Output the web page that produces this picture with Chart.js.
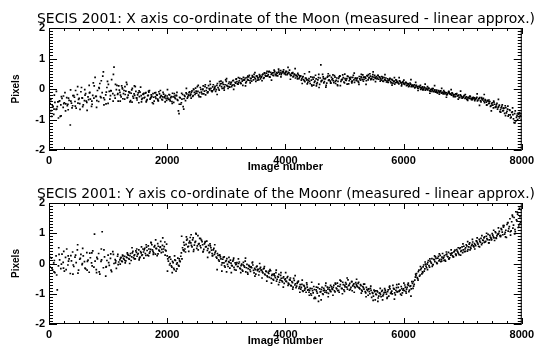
<!DOCTYPE html>
<html>
<head>
<meta charset="utf-8">
<script src="https://cdn.jsdelivr.net/npm/chart.js@4/dist/chart.umd.min.js"></script>
<style>
  html, body { margin: 0; padding: 0; background: #fff; }
  #wrap { position: relative; width: 538px; height: 349px; }
  canvas { position: absolute; left: 0; }
</style>
</head>
<body>
<div id="wrap">
  <canvas id="panelX" width="538" height="175" style="top:0"></canvas>
  <canvas id="panelY" width="538" height="174" style="top:175px"></canvas>
</div>
<script>
// image numbers run 0..7990; sets A and B read every 20 frames (B offset by 10),
// set C is the looser scatter read every 40 frames starting at 5
const frameStep = 20;
const frameOffsetB = 10;
const frameStepC = 40;
const frameOffsetC = 5;
const xTicks = [0, 2000, 4000, 6000, 8000];
const yTicks = [-2, -1, 0, 1, 2];

const titleX = 'SECIS 2001: X axis co-ordinate of the Moon (measured - linear approx.)';
const titleY = 'SECIS 2001: Y axis co-ordinate of the Moonr (measured - linear approx.)';

// X co-ordinate residuals (pixels), frames 0, 20, 40 ...
const xResidualA = [
  -0.62, -0.48, -0.71, -0.55, -0.83, -0.44, -0.67, -0.58, -0.95, -0.39, -0.52, -0.31, -0.60, -0.45, -0.72, -0.28, -0.50, -0.37, -1.18, -0.46,
  -0.55, -0.22, -0.41, -0.63, -0.18, -0.34, -0.48, -0.09, -0.29, -0.52, -0.38, -0.15, -0.44, -0.26, 0.12, -0.33, -0.57, -0.21, -0.30, 0.38,
  -0.24, -0.05, -0.41, 0.18, -0.28, -0.12, 0.56, -0.35, -0.19, 0.05, -0.47, -0.08, -0.22, 0.31, -0.15, 0.72, -0.30, -0.02, -0.18, 0.10,
  -0.11, -0.26, 0.04, -0.15, -0.33, -0.07, 0.15, -0.20, -0.12, -0.38, -0.03, -0.24, -0.16, 0.08, -0.29, -0.19, -0.45, -0.10, -0.22, -0.31,
  -0.18, -0.27, -0.12, -0.35, -0.21, -0.05, -0.30, -0.24, -0.15, -0.40, -0.26, -0.19, -0.33, -0.09, -0.28, -0.22, -0.36, -0.17, -0.25, -0.31,
  -0.23, -0.34, -0.19, -0.28, -0.41, -0.26, -0.15, -0.32, -0.22, -0.37, -0.81, -0.29, -0.45, -0.18, -0.66, -0.24, -0.13, -0.30, -0.20, -0.09,
  -0.17, -0.06, -0.22, -0.11, 0.03, -0.14, -0.08, -0.25, 0.05, -0.10, -0.02, -0.16, 0.08, -0.05, -0.12, 0.11, -0.03, 0.02, -0.09, 0.14,
  0.01, -0.08, 0.12, 0.05, -0.04, 0.17, 0.08, 0.22, 0.03, 0.14, 0.25, 0.09, 0.18, 0.06, 0.21, 0.13, 0.28, 0.10, 0.19, 0.24,
  0.16, 0.27, 0.21, 0.33, 0.12, 0.29, 0.36, 0.24, 0.31, 0.40, 0.27, 0.35, 0.44, 0.30, 0.38, 0.25, 0.42, 0.36, 0.47, 0.33,
  0.41, 0.49, 0.37, 0.45, 0.52, 0.43, 0.56, 0.39, 0.48, 0.53, 0.44, 0.58, 0.47, 0.51, 0.55, 0.49, 0.60, 0.52, 0.56, 0.50,
  0.54, 0.57, 0.50, 0.53, 0.48, 0.45, 0.51, 0.42, 0.47, 0.44, 0.40, 0.46, 0.38, 0.43, 0.33, 0.41, 0.27, 0.36, 0.30, 0.22,
  0.34, 0.18, 0.29, 0.38, 0.13, 0.26, 0.33, 0.21, 0.37, 0.15, 0.79, 0.28, 0.40, 0.24, 0.35, 0.19, 0.42, 0.30, 0.26, 0.38,
  0.33, 0.21, 0.39, 0.28, 0.14, 0.35, 0.43, 0.25, 0.31, 0.37, 0.20, 0.29, 0.34, 0.41, 0.27, 0.32, 0.24, 0.38, 0.30, 0.35,
  0.28, 0.36, 0.22, 0.33, 0.40, 0.31, 0.26, 0.38, 0.35, 0.44, 0.30, 0.37, 0.42, 0.33, 0.47, 0.39, 0.35, 0.41, 0.36, 0.32,
  0.38, 0.29, 0.34, 0.25, 0.31, 0.36, 0.27, 0.22, 0.30, 0.24, 0.32, 0.19, 0.26, 0.21, 0.28, 0.23, 0.17, 0.25, 0.20, 0.22,
  0.19, 0.15, 0.22, 0.13, 0.17, 0.10, 0.16, 0.12, 0.08, 0.14, 0.06, 0.11, 0.03, 0.09, 0.05, 0.01, 0.07, -0.02, 0.04, 0.00,
  -0.01, 0.03, -0.05, -0.02, -0.08, 0.01, -0.06, -0.10, -0.04, -0.12, -0.07, -0.09, -0.14, -0.11, -0.05, -0.16, -0.13, -0.18, -0.10, -0.15,
  -0.17, -0.13, -0.21, -0.18, -0.24, -0.15, -0.22, -0.27, -0.19, -0.25, -0.29, -0.23, -0.31, -0.26, -0.33, -0.28, -0.24, -0.32, -0.30, -0.27,
  -0.29, -0.33, -0.27, -0.36, -0.31, -0.38, -0.28, -0.34, -0.40, -0.35, -0.43, -0.37, -0.48, -0.41, -0.55, -0.45, -0.62, -0.50, -0.58, -0.47,
  -0.60, -0.53, -0.68, -0.57, -0.72, -0.63, -0.55, -0.78, -0.66, -0.85, -0.70, -0.92, -0.75, -0.98, -0.81, -1.05, -0.88, -0.79, -0.95, -0.86
];

// X co-ordinate residuals (pixels), frames 10, 30, 50 ... (null = no measurement)
const xResidualB = [
  -0.75, -0.35, null, -0.58, -0.20, null, -0.66, -0.42, null, -0.90, -0.25, null, -0.48, -0.12, null, -0.55, -0.30, null, -0.40, -0.62,
  null, -0.27, -0.05, null, -0.46, -0.31, null, 0.05, -0.58, null, -0.20, -0.40, null, -0.35, -0.11, null, -0.50, 0.20, null, -0.24,
  -0.38, null, 0.02, -0.25, null, 0.42, -0.52, null, -0.10, 0.25, null, -0.33, -0.06, null, 0.48, -0.21, null, 0.12, -0.40, -0.04,
  -0.20, 0.10, -0.32, -0.05, -0.18, 0.22, -0.27, -0.09, -0.42, -0.14, 0.02, -0.30, -0.21, -0.08, -0.36, -0.13, -0.25, 0.06, -0.34, -0.17,
  -0.29, -0.14, -0.38, -0.22, -0.10, -0.33, -0.19, -0.45, -0.27, -0.13, -0.31, -0.20, -0.39, -0.16, -0.24, -0.34, -0.11, -0.28, -0.21, -0.37,
  -0.30, -0.18, -0.39, -0.25, -0.14, -0.44, -0.28, -0.21, -0.35, -0.72, -0.27, -0.50, -0.33, -0.58, -0.21, -0.38, -0.16, -0.26, -0.12, -0.22,
  -0.10, -0.24, -0.02, -0.18, -0.07, 0.08, -0.20, -0.12, -0.01, -0.16, 0.10, -0.07, -0.19, 0.04, -0.09, 0.01, 0.15, -0.06, 0.07, -0.02,
  0.09, -0.02, 0.18, 0.00, 0.11, 0.26, 0.02, 0.15, 0.07, 0.30, 0.12, 0.02, 0.23, 0.16, 0.08, 0.27, 0.14, 0.22, 0.33, 0.17,
  0.22, 0.35, 0.18, 0.26, 0.38, 0.31, 0.20, 0.37, 0.29, 0.45, 0.34, 0.26, 0.40, 0.48, 0.33, 0.43, 0.37, 0.30, 0.44, 0.39,
  0.46, 0.35, 0.51, 0.42, 0.58, 0.47, 0.40, 0.55, 0.50, 0.45, 0.62, 0.48, 0.54, 0.43, 0.59, 0.53, 0.47, 0.57, 0.63, 0.51,
  0.58, 0.47, 0.55, 0.62, 0.44, 0.52, 0.40, 0.49, 0.36, 0.45, 0.51, 0.34, 0.42, 0.29, 0.39, 0.31, 0.24, 0.35, 0.17, 0.28,
  0.25, 0.40, 0.10, 0.32, 0.22, 0.45, 0.17, 0.30, 0.05, 0.36, 0.27, 0.48, 0.20, 0.33, 0.12, 0.39, 0.28, 0.44, 0.19, 0.31,
  0.27, 0.44, 0.18, 0.36, 0.25, 0.40, 0.11, 0.30, 0.46, 0.23, 0.34, 0.28, 0.42, 0.17, 0.33, 0.38, 0.26, 0.45, 0.22, 0.36,
  0.34, 0.25, 0.41, 0.29, 0.37, 0.46, 0.32, 0.39, 0.27, 0.43, 0.36, 0.50, 0.34, 0.40, 0.31, 0.45, 0.38, 0.33, 0.44, 0.40,
  0.33, 0.41, 0.26, 0.37, 0.29, 0.23, 0.33, 0.28, 0.35, 0.20, 0.29, 0.25, 0.16, 0.30, 0.24, 0.19, 0.27, 0.21, 0.15, 0.24,
  0.16, 0.21, 0.11, 0.18, 0.14, 0.19, 0.08, 0.13, 0.10, 0.04, 0.12, 0.07, 0.02, 0.08, -0.01, 0.05, 0.02, 0.06, -0.04, 0.02,
  -0.03, 0.02, -0.07, -0.01, -0.04, -0.09, -0.03, -0.08, -0.13, -0.05, -0.10, -0.06, -0.12, -0.16, -0.09, -0.12, -0.19, -0.14, -0.11, -0.17,
  -0.20, -0.15, -0.19, -0.25, -0.17, -0.23, -0.20, -0.28, -0.22, -0.30, -0.26, -0.21, -0.29, -0.34, -0.27, -0.31, -0.25, -0.35, -0.29, -0.32,
  -0.34, -0.30, -0.39, -0.32, -0.28, -0.42, -0.36, -0.31, -0.45, -0.38, -0.52, -0.40, -0.46, -0.57, -0.49, -0.53, -0.44, -0.60, -0.52, -0.66,
  -0.58, -0.74, -0.62, -0.52, -0.70, -0.80, -0.61, -0.73, -0.89, -0.68, -0.95, -0.77, -0.84, -1.10, -0.72, -0.93, -1.00, -0.83, -0.90, -1.02
];

// X co-ordinate residuals (pixels), looser scatter, frames 5, 45, 85 ...
const xResidualC = [
  -0.27, -0.90, -0.66, -0.08, -0.41, -0.88, -0.23, -0.49, -0.68, -0.03, -0.22, -0.56, 0.08, -0.67, -0.30, -0.02, -0.70, -0.13, -0.40, 0.10,
  -0.60, 0.05, 0.27, -0.29, -0.49, 0.15, -0.05, -0.40, 0.15, -0.15, -0.40, 0.00, 0.08, -0.29, -0.11, -0.43, 0.10, -0.30, -0.06, -0.42,
  -0.14, -0.42, -0.07, -0.27, -0.48, -0.12, -0.37, -0.05, -0.26, -0.42, -0.02, -0.34, -0.47, -0.23, -0.11, -0.50, -0.14, -0.32, 0.02, -0.20,
  -0.30, 0.00, -0.14, 0.12, -0.26, 0.00, 0.14, -0.12, 0.25, -0.06, 0.04, -0.18, 0.24, 0.18, -0.04, 0.34, 0.08, 0.22, -0.01, 0.32,
  0.37, 0.18, 0.29, 0.10, 0.42, 0.20, 0.40, 0.54, 0.29, 0.40, 0.27, 0.53, 0.42, 0.58, 0.29, 0.54, 0.44, 0.65, 0.40, 0.56,
  0.47, 0.71, 0.32, 0.54, 0.67, 0.33, 0.43, 0.18, 0.50, 0.31, 0.56, 0.14, 0.38, 0.10, 0.48, 0.24, 0.34, 0.06, 0.50, 0.20,
  0.46, 0.25, 0.11, 0.42, 0.32, 0.49, 0.16, 0.37, 0.20, 0.52, 0.28, 0.15, 0.48, 0.39, 0.15, 0.47, 0.31, 0.56, 0.24, 0.45,
  0.26, 0.39, 0.47, 0.23, 0.33, 0.13, 0.37, 0.22, 0.37, 0.10, 0.29, 0.20, 0.08, 0.31, 0.09, 0.22, -0.05, 0.12, -0.03, 0.16,
  0.08, -0.14, 0.01, 0.11, -0.10, -0.17, 0.02, -0.10, -0.27, -0.08, -0.02, -0.25, -0.16, -0.33, -0.07, -0.27, -0.18, -0.37, -0.24, -0.35,
  -0.38, -0.16, -0.54, -0.32, -0.18, -0.53, -0.36, -0.72, -0.40, -0.59, -0.34, -0.76, -0.63, -0.87, -0.56, -0.85, -0.62, -1.11, -0.82, -0.77
];

// Y co-ordinate residuals (pixels), frames 0, 20, 40 ...
const yResidualA = [
  0.05, -0.12, 0.18, -0.21, 0.02, -0.30, 0.25, -0.87, -0.08, 0.12, -0.17, 0.31, 0.04, -0.25, 0.20, 0.48, -0.05, 0.15, -0.33, 0.09,
  0.38, -0.10, 0.21, 0.03, 0.45, -0.22, 0.14, 0.30, -0.04, 0.25, 0.06, -0.18, 0.36, 0.11, -0.29, 0.19, 0.02, 0.42, -0.12, 0.08,
  -0.20, 0.15, 0.33, -0.35, 0.07, 1.05, -0.14, 0.22, -0.42, 0.10, 0.28, -0.06, 0.17, -0.27, 0.39, 0.00, 0.13, -0.16, 0.24, 0.05,
  0.12, 0.20, 0.06, 0.17, 0.24, 0.09, 0.19, 0.28, 0.14, 0.33, 0.22, 0.40, 0.26, 0.15, 0.37, 0.30, 0.45, 0.21, 0.35, 0.29,
  0.38, 0.50, 0.27, 0.43, 0.58, 0.34, 0.47, 0.62, 0.40, 0.55, 0.31, 0.49, 0.66, 0.44, 0.53, 0.36, 0.60, 0.48, 0.71, 0.42,
  0.25, 0.08, -0.05, 0.14, -0.12, 0.03, -0.20, 0.10, -0.02, 0.18, -0.09, 0.06, 0.35, 0.52, 0.70, 0.48, 0.63, 0.81, 0.57, 0.74,
  0.68, 0.55, 0.85, 0.61, 0.73, 0.50, 0.92, 0.66, 0.58, 0.77, 0.62, 0.47, 0.70, 0.56, 0.43, 0.60, 0.38, 0.52, 0.33, 0.45,
  0.30, 0.41, 0.18, 0.27, 0.08, 0.22, -0.05, 0.14, 0.02, -0.12, 0.10, -0.03, 0.06, -0.15, 0.01, -0.08, 0.12, -0.20, -0.04, 0.03,
  -0.10, 0.05, -0.18, -0.02, -0.25, -0.08, 0.08, -0.14, -0.30, -0.06, -0.20, -0.11, 0.02, -0.23, -0.16, -0.35, -0.09, -0.19, -0.27, -0.13,
  -0.22, -0.31, -0.15, -0.38, -0.27, -0.44, -0.33, -0.20, -0.49, -0.36, -0.55, -0.41, -0.30, -0.52, -0.45, -0.62, -0.39, -0.57, -0.48, -0.66,
  -0.51, -0.60, -0.43, -0.68, -0.55, -0.74, -0.63, -0.49, -0.71, -0.80, -0.66, -0.58, -0.77, -0.85, -0.69, -0.92, -0.75, -0.83, -0.64, -0.88,
  -0.95, -0.82, -1.05, -0.90, -0.76, -1.12, -0.87, -0.98, -1.25, -0.84, -0.93, -0.79, -1.02, -0.88, -0.73, -0.96, -0.85, -0.80, -0.91, -0.77,
  -0.86, -0.72, -0.94, -0.81, -0.65, -0.89, -0.76, -0.58, -0.83, -0.70, -0.92, -0.63, -0.78, -0.54, -0.71, -0.85, -0.60, -0.74, -0.67, -0.80,
  -0.69, -0.77, -0.62, -0.84, -0.73, -0.91, -0.80, -0.68, -0.97, -0.86, -1.05, -0.93, -0.82, -1.12, -0.99, -0.88, -1.20, -1.03, -0.94, -1.08,
  -0.98, -1.10, -0.89, -1.02, -0.83, -0.95, -1.15, -0.87, -0.78, -0.99, -0.91, -0.72, -0.85, -1.04, -0.80, -0.93, -0.68, -0.88, -0.76, -0.97,
  -0.84, -0.71, -0.92, -0.79, -0.65, -0.88, -0.74, -0.60, -0.82, -0.69, -0.45, -0.33, -0.50, -0.22, -0.38, -0.15, -0.28, -0.05, -0.18, -0.09,
  -0.02, 0.10, -0.12, 0.05, 0.16, -0.04, 0.12, 0.22, 0.03, 0.18, 0.09, 0.27, 0.14, 0.33, 0.20, 0.11, 0.29, 0.24, 0.37, 0.19,
  0.28, 0.35, 0.22, 0.40, 0.31, 0.46, 0.37, 0.29, 0.52, 0.43, 0.36, 0.57, 0.48, 0.62, 0.41, 0.55, 0.68, 0.50, 0.63, 0.58,
  0.66, 0.59, 0.73, 0.64, 0.80, 0.70, 0.62, 0.77, 0.85, 0.71, 0.90, 0.79, 0.68, 0.93, 0.84, 0.99, 0.88, 0.76, 1.02, 0.91,
  0.97, 1.06, 0.89, 1.12, 0.95, 1.25, 1.03, 0.86, 1.34, 1.15, 1.48, 1.08, 1.60, 1.27, 0.98, 1.71, 1.40, 1.19, 1.82, 1.36
];

// Y co-ordinate residuals (pixels), frames 10, 30, 50 ... (null = no measurement)
const yResidualB = [
  0.22, null, -0.15, null, 0.10, null, -0.38, null, 0.30, null, -0.02, null, 0.40, null, -0.20, null, 0.08, null, 0.26, null,
  -0.05, null, 0.28, null, -0.32, null, 0.17, null, 0.50, null, -0.15, null, 0.07, null, 0.34, null, -0.08, null, 0.97, null,
  0.20, null, -0.28, null, 0.12, null, 0.45, null, -0.10, null, 0.03, null, -0.22, null, 0.30, null, 0.09, null, -0.04, null,
  0.18, 0.08, 0.25, 0.14, 0.02, 0.21, 0.31, 0.16, 0.26, 0.10, 0.35, 0.19, 0.29, 0.42, 0.24, 0.33, 0.18, 0.39, 0.27, 0.48,
  0.45, 0.33, 0.54, 0.28, 0.48, 0.39, 0.68, 0.45, 0.35, 0.59, 0.50, 0.26, 0.57, 0.41, 0.73, 0.47, 0.38, 0.56, 0.44, 0.64,
  0.15, 0.20, 0.00, -0.08, 0.07, -0.16, 0.12, -0.25, 0.02, -0.06, 0.09, 0.24, 0.15, 0.45, 0.61, 0.38, 0.77, 0.55, 0.68, 0.86,
  0.60, 0.78, 0.46, 0.70, 0.97, 0.58, 0.64, 0.83, 0.52, 0.72, 0.40, 0.65, 0.55, 0.74, 0.49, 0.36, 0.58, 0.44, 0.27, 0.50,
  0.36, 0.21, 0.33, 0.12, 0.28, 0.15, 0.02, 0.20, -0.08, 0.07, 0.16, -0.10, 0.04, 0.11, -0.06, 0.08, -0.13, 0.02, -0.02, -0.10,
  0.00, -0.15, -0.07, -0.22, 0.04, -0.12, -0.28, -0.03, -0.17, -0.09, -0.26, -0.14, -0.05, -0.31, -0.20, -0.11, -0.24, -0.38, -0.17, -0.22,
  -0.28, -0.18, -0.35, -0.25, -0.41, -0.30, -0.46, -0.24, -0.39, -0.52, -0.34, -0.47, -0.58, -0.43, -0.36, -0.55, -0.49, -0.61, -0.44, -0.53,
  -0.58, -0.47, -0.65, -0.53, -0.72, -0.60, -0.78, -0.56, -0.67, -0.75, -0.62, -0.82, -0.70, -0.79, -0.90, -0.72, -0.81, -0.95, -0.78, -0.86,
  -0.89, -1.00, -0.83, -0.97, -0.86, -1.15, -0.92, -0.80, -1.07, -0.94, -0.86, -1.00, -0.82, -0.95, -0.90, -0.78, -0.99, -0.87, -0.93, -0.84,
  -0.79, -0.90, -0.68, -0.84, -0.75, -0.95, -0.70, -0.82, -0.62, -0.87, -0.77, -0.68, -0.85, -0.73, -0.66, -0.79, -0.90, -0.70, -0.76, -0.63,
  -0.74, -0.66, -0.81, -0.70, -0.88, -0.76, -0.85, -0.93, -0.79, -0.90, -0.84, -1.00, -0.89, -0.96, -1.08, -0.93, -1.01, -0.90, -1.14, -0.98,
  -1.03, -0.92, -1.07, -0.96, -0.88, -1.01, -0.93, -1.08, -0.84, -0.95, -1.00, -0.82, -0.97, -0.89, -0.94, -0.79, -0.90, -1.01, -0.83, -0.88,
  -0.90, -0.78, -0.85, -0.70, -0.93, -0.76, -0.84, -0.66, -0.75, -0.55, -0.40, -0.47, -0.27, -0.42, -0.20, -0.34, -0.11, -0.25, -0.02, -0.14,
  0.04, -0.07, 0.08, 0.01, -0.05, 0.14, 0.06, 0.17, 0.00, 0.24, 0.13, 0.06, 0.21, 0.17, 0.26, 0.08, 0.31, 0.22, 0.15, 0.33,
  0.32, 0.25, 0.38, 0.44, 0.27, 0.41, 0.33, 0.49, 0.40, 0.55, 0.45, 0.39, 0.52, 0.58, 0.46, 0.64, 0.53, 0.59, 0.71, 0.55,
  0.62, 0.75, 0.68, 0.57, 0.74, 0.83, 0.67, 0.76, 0.88, 0.73, 0.82, 0.96, 0.78, 0.87, 0.80, 0.94, 0.85, 1.05, 0.83, 0.96,
  1.00, 0.92, 1.15, 1.04, 1.20, 0.97, 1.10, 1.29, 1.07, 1.22, 0.94, 1.38, 1.17, 1.52, 1.05, 1.44, 1.63, 1.24, 1.55, 1.78
];

// Y co-ordinate residuals (pixels), looser scatter, frames 5, 45, 85 ... (null = no measurement)
const yResidualC = [
  0.30, null, -0.28, null, 0.52, null, -0.15, null, 0.25, null, -0.35, null, 0.62, null, 0.00, null, -0.22, null, 0.35, null,
  -0.30, null, 0.48, null, -0.12, null, 0.32, null, 0.02, 0.30, -0.02, 0.28, 0.10, 0.35, 0.00, 0.52, 0.15, 0.48, 0.12, 0.55,
  0.18, 0.62, 0.25, 0.70, 0.30, 0.78, 0.32, 0.55, 0.85, 0.28, -0.25, 0.22, -0.30, 0.25, -0.18, 0.15, 0.90, 0.42, 0.88, 0.40,
  0.95, 0.40, 1.00, 0.45, 0.82, 0.38, 0.72, 0.20, 0.65, 0.25, 0.62, -0.20, 0.28, -0.25, 0.22, -0.28, 0.20, -0.30, 0.18, -0.22,
  0.15, -0.30, -0.05, 0.18, -0.35, -0.12, 0.05, -0.42, -0.20, 0.00, -0.48, -0.10, -0.58, -0.25, -0.65, -0.38, -0.22, -0.70, -0.30, -0.78,
  -0.30, -0.72, -0.48, -0.85, -0.40, -0.62, -0.95, -0.55, -0.88, -0.70, -1.05, -0.62, -1.15, -0.78, -0.68, -1.20, -0.90, -0.65, -1.10, -0.72,
  -1.05, -0.65, -0.90, -0.55, -1.00, -0.72, -0.48, -0.88, -0.60, -0.95, -0.52, -0.80, -0.98, -0.68, -1.10, -0.85, -0.75, -1.22, -0.90, -1.25,
  -0.82, -1.20, -0.95, -1.12, -0.75, -1.00, -1.18, -0.70, -0.92, -1.05, -0.65, -0.98, -0.72, -1.08, -0.60, -0.35, -0.55, -0.10, -0.30, 0.05,
  -0.20, 0.15, -0.10, 0.25, 0.00, 0.32, 0.08, 0.10, 0.38, 0.15, 0.45, 0.22, 0.30, 0.52, 0.28, 0.65, 0.40, 0.72, 0.45, 0.80,
  0.48, 0.85, 0.55, 0.92, 0.70, 1.00, 0.68, 0.78, 1.10, 0.85, 1.18, 0.92, 1.25, 0.88, 1.35, 1.05, 1.55, 1.12, 1.70, 1.30
];

const labelFont = { family: 'Liberation Sans', size: 11, weight: 'bold' };

// IDL style frame: box, inward ticks on all four sides, titles
const idlFrame = {
  id: 'idlFrame',
  afterDraw(chart, args, opts) {
    const { ctx, chartArea: a, scales } = chart;
    const x = scales.x, y = scales.y;
    ctx.save();
    ctx.strokeStyle = '#000';
    ctx.lineWidth = 1;
    ctx.strokeRect(a.left + 0.5, a.top + 0.5, a.right - a.left - 1, a.bottom - a.top - 1);
    ctx.beginPath();
    for (let i = -20; i <= 20; i++) {
      const py = Math.round(y.getPixelForValue(i / 10)) + 0.5;
      const len = i % 10 === 0 ? 8 : 4;
      ctx.moveTo(a.left, py); ctx.lineTo(a.left + len, py);
      ctx.moveTo(a.right, py); ctx.lineTo(a.right - len, py);
    }
    for (let f = 0; f <= 8000; f += 250) {
      const px = Math.round(x.getPixelForValue(f)) + 0.5;
      const len = f % 2000 === 0 ? 6 : 3;
      ctx.moveTo(px, a.bottom); ctx.lineTo(px, a.bottom - len);
      ctx.moveTo(px, a.top); ctx.lineTo(px, a.top + len);
    }
    ctx.stroke();

    ctx.fillStyle = '#000';
    // main title, stretched to span the same width as the original
    ctx.font = '14px "DejaVu Sans"';
    ctx.textBaseline = 'alphabetic';
    ctx.textAlign = 'left';
    const w = ctx.measureText(opts.text).width;
    ctx.save();
    ctx.translate(37, 23);
    ctx.scale(498 / w, 1);
    ctx.fillText(opts.text, 0, 0);
    ctx.restore();

    ctx.font = 'bold 11px "Liberation Sans"';
    ctx.textAlign = 'center';
    ctx.fillText('Image number', (a.left + a.right) / 2, a.bottom + 20);

    ctx.save();
    ctx.translate(19, (a.top + a.bottom) / 2);
    ctx.rotate(-Math.PI / 2);
    ctx.font = 'bold 10px "Liberation Sans"';
    ctx.fillText('Pixels', 0, 0);
    ctx.restore();
    ctx.restore();
  }
};

function toPoints(values, offset, step) {
  return values.map((v, i) => ({ x: offset + i * step, y: v }));
}

function makePanel(id, title, valuesA, valuesB, valuesC) {
  const dot = {
    backgroundColor: '#000',
    borderWidth: 0,
    pointStyle: 'rect',
    pointRadius: 1.2,
    pointHoverRadius: 1.2
  };
  return new Chart(document.getElementById(id), {
    type: 'scatter',
    data: {
      datasets: [
        Object.assign({ data: toPoints(valuesA, 0, frameStep) }, dot),
        Object.assign({ data: toPoints(valuesB, frameOffsetB, frameStep) }, dot),
        Object.assign({ data: toPoints(valuesC, frameOffsetC, frameStepC) }, dot)
      ]
    },
    options: {
      responsive: false,
      animation: false,
      events: [],
      layout: { padding: { left: 0, right: 13, top: 28, bottom: 0 } },
      plugins: { legend: { display: false }, tooltip: { enabled: false }, idlFrame: { text: title } },
      scales: {
        x: {
          type: 'linear', min: 0, max: 8000,
          afterBuildTicks: (s) => { s.ticks = xTicks.map(v => ({ value: v })); },
          afterFit: (s) => { s.height = 25; },
          grid: { display: false, drawTicks: false },
          border: { display: false },
          ticks: { color: '#000', font: labelFont, padding: 4, maxRotation: 0, autoSkip: false, callback: (v) => String(v) }
        },
        y: {
          type: 'linear', min: -2, max: 2,
          afterBuildTicks: (s) => { s.ticks = yTicks.map(v => ({ value: v })); },
          afterFit: (s) => { s.width = 49; },
          grid: { display: false, drawTicks: false },
          border: { display: false },
          ticks: { color: '#000', font: labelFont, padding: 4, callback: (v) => String(v) }
        }
      }
    },
    plugins: [idlFrame]
  });
}

makePanel('panelX', titleX, xResidualA, xResidualB, xResidualC);
makePanel('panelY', titleY, yResidualA, yResidualB, yResidualC);
</script>
</body>
</html>
